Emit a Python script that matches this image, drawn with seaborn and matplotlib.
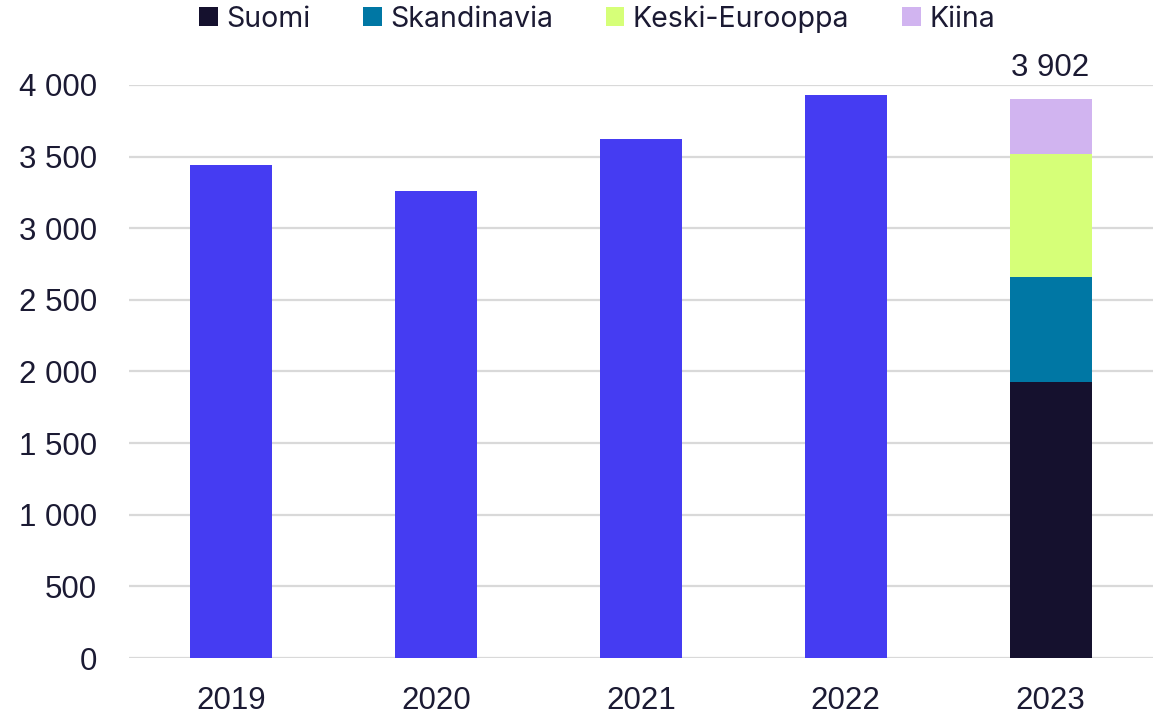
from __future__ import annotations

import matplotlib

matplotlib.use("Agg")

import matplotlib.pyplot as plt
import pandas as pd
import seaborn as sns
from matplotlib.patches import Patch

YEARS = ["2019", "2020", "2021", "2022", "2023"]
TOTALS = [3445, 3262, 3625, 3930]  # 2019-2022, one total each
REGIONS = ["Suomi", "Skandinavia", "Keski-Eurooppa", "Kiina"]
REGION_VALUES_2023 = [1930, 733, 856, 383]
TOTAL_LABEL = "3 902"
Y_TICKS = [0, 500, 1000, 1500, 2000, 2500, 3000, 3500, 4000]

BAR_COLOR = "#453CF2"
REGION_COLORS = ["#15112E", "#0077A4", "#D6FF78", "#D1B4F0"]
TEXT_COLOR = "#1B1A33"


def fmt_thousands(value: float) -> str:
    return f"{int(value):,}".replace(",", " ")


def main() -> None:
    sns.set_theme(style="whitegrid")
    plt.rcParams["font.family"] = ["Liberation Sans", "DejaVu Sans"]

    fig = plt.figure(figsize=(11.62, 7.16), dpi=100)
    ax = fig.add_axes([129 / 1162, 1 - 658 / 716, (1153 - 129) / 1162, (658 - 85) / 716])

    history = pd.DataFrame({"year": YEARS[:-1], "value": TOTALS})
    sns.barplot(
        data=history,
        x="year",
        y="value",
        order=YEARS,
        color=BAR_COLOR,
        saturation=1,
        width=0.4,
        linewidth=0,
        ax=ax,
    )

    # stacked 2023: draw cumulative heights from the top down
    cumulative = pd.Series(REGION_VALUES_2023).cumsum().tolist()
    for region, top, color in reversed(list(zip(REGIONS, cumulative, REGION_COLORS))):
        stack = pd.DataFrame({"year": [YEARS[-1]], "value": [top]})
        sns.barplot(
            data=stack,
            x="year",
            y="value",
            order=YEARS,
            color=color,
            saturation=1,
            width=0.4,
            linewidth=0,
            ax=ax,
        )

    ax.text(
        4, cumulative[-1] + 110, TOTAL_LABEL,
        ha="center", va="bottom", fontsize=22.5, color=TEXT_COLOR,
    )

    ax.set_xlim(-0.5, 4.5)
    ax.set_ylim(0, 4000)
    ax.set_yticks(Y_TICKS)
    ax.set_yticklabels([fmt_thousands(v) for v in Y_TICKS])
    ax.set_xlabel("")
    ax.set_ylabel("")
    ax.tick_params(axis="both", labelsize=22.5, colors=TEXT_COLOR, length=0)
    ax.tick_params(axis="y", pad=23)
    ax.tick_params(axis="x", pad=20)
    ax.grid(axis="x", visible=False)
    ax.grid(axis="y", color="#D9D9D9", linewidth=1.6)
    ax.set_axisbelow(True)
    for spine in ax.spines.values():
        spine.set_visible(False)

    handles = [Patch(facecolor=c, edgecolor="none") for c in REGION_COLORS]
    fig.legend(
        handles,
        REGIONS,
        loc="center",
        bbox_to_anchor=(597 / 1162, 1 - 19 / 716),
        ncol=4,
        frameon=False,
        prop={"family": ["Inter", "DejaVu Sans"], "size": 20.5},
        handlelength=0.65,
        handleheight=0.65,
        handletextpad=0.3,
        columnspacing=1.85,
        labelcolor=TEXT_COLOR,
    )

    fig.savefig("out.png", dpi=100, facecolor="white")
    plt.close(fig)


if __name__ == "__main__":
    main()
